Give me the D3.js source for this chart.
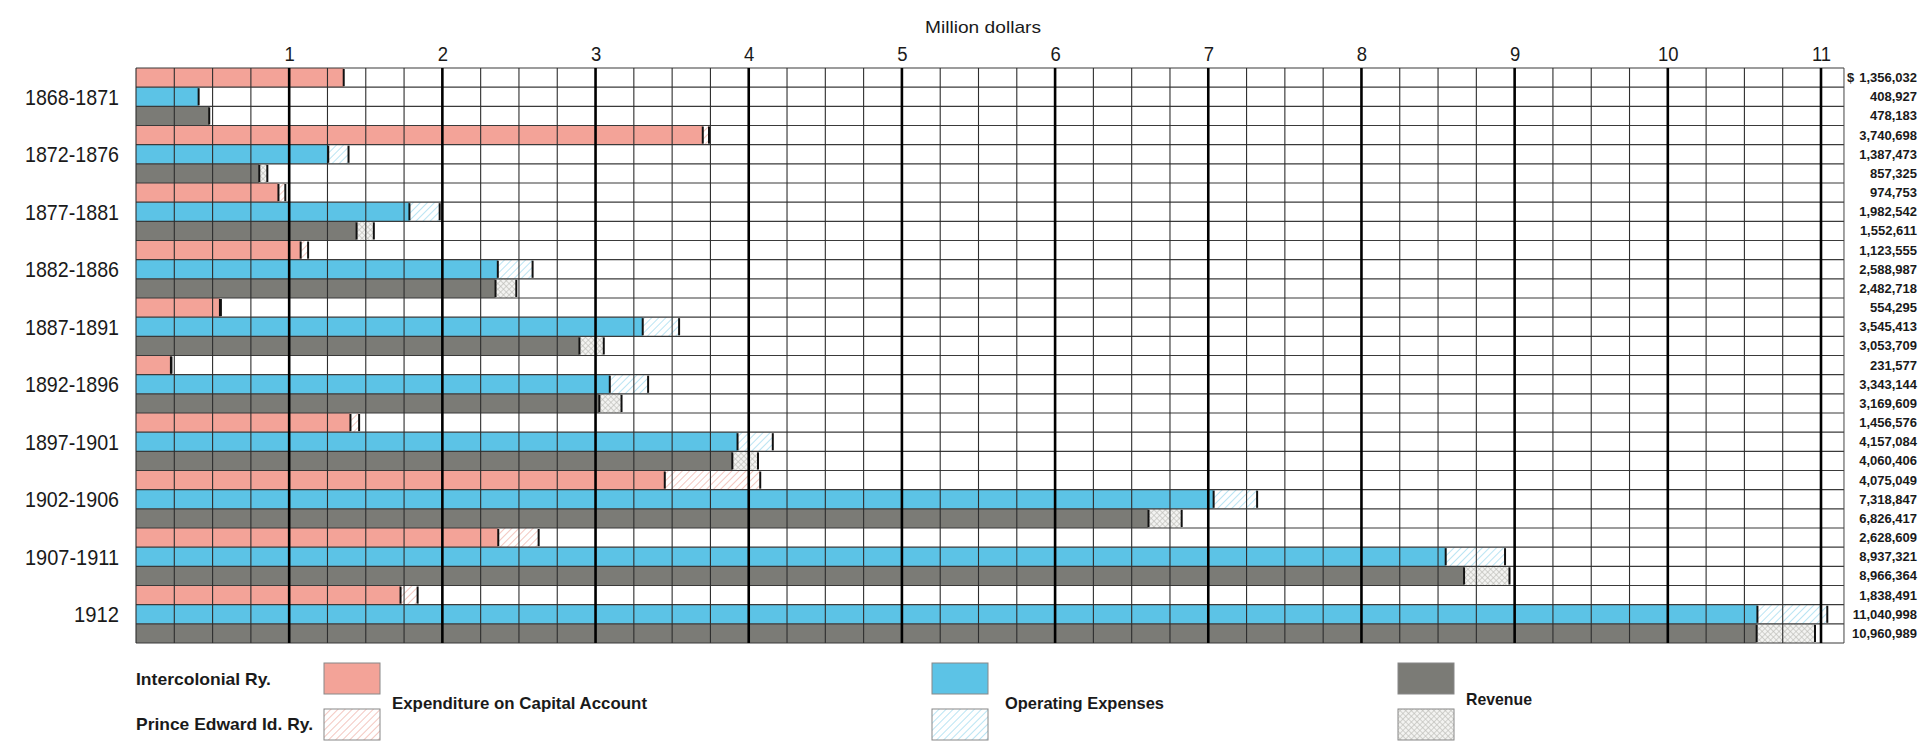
<!DOCTYPE html>
<html>
  <head>
    <meta charset="utf-8">
    <script src="https://d3js.org/d3.v7.min.js"></script>
    <style>
      body { margin: 0; background: #fff; }
      text { font-family: "Liberation Sans Narrow", "Arial Narrow", "Liberation Sans", Arial, sans-serif; fill: #1a1a1a; }
    </style>
  </head>
  <body>
    <div id="graph"></div>
    <script>

var w = 1920;
var h = 744;

// periods
var categories = ["1868-1871", "1872-1876", "1877-1881", "1882-1886", "1887-1891",
                  "1892-1896", "1897-1901", "1902-1906", "1907-1911", "1912"];

// totals (both railways), dollars
var capitalTotal   = [1356032, 3740698, 974753, 1123555, 554295, 231577, 1456576, 4075049, 2628609, 1838491];
var operatingTotal = [408927, 1387473, 1982542, 2588987, 3545413, 3343144, 4157084, 7318847, 8937321, 11040998];
var revenueTotal   = [478183, 857325, 1552611, 2482718, 3053709, 3169609, 4060406, 6826417, 8966364, 10960989];

// Intercolonial Ry. part, rest is Prince Edward Id. Ry.
var capitalInter   = [1356032, 3700000, 930000, 1075000, 548000, 228000, 1400000, 3452000, 2365000, 1727000];
var operatingInter = [408927, 1255000, 1785000, 2362000, 3308000, 3093000, 3927000, 7035000, 8550000, 10585000];
var revenueInter   = [478183, 805000, 1440000, 2347000, 2895000, 3025000, 3893000, 6610000, 8670000, 10580000];

var ticks = [1, 2, 3, 4, 5, 6, 7, 8, 9, 10, 11];

var solidColor = { capital: "#f3a398", operating: "#5cc3e6", revenue: "#7b7b76" };

// one row per bar, values in dollars
var rows = [];
categories.forEach(function(c, i) {
  rows.push({ kind: "capital", inter: capitalInter[i], total: capitalTotal[i] });
  rows.push({ kind: "operating", inter: operatingInter[i], total: operatingTotal[i] });
  rows.push({ kind: "revenue", inter: revenueInter[i], total: revenueTotal[i] });
});

var svg = d3.select("#graph")
  .append("svg")
  .attr("width", w)
  .attr("height", h);

svg.append("rect").attr("width", w).attr("height", h).attr("fill", "#fff");

// patterns for Prince Edward Id. Ry.
var defs = svg.append("defs");
function hatch(id, color) {
  var p = defs.append("pattern")
    .attr("id", id)
    .attr("patternUnits", "userSpaceOnUse")
    .attr("width", 5).attr("height", 5)
    .attr("patternTransform", "rotate(45)");
  p.append("rect").attr("width", 5).attr("height", 5).attr("fill", "#fff");
  p.append("line").attr("x1", 0).attr("y1", 0).attr("x2", 0).attr("y2", 5)
    .attr("stroke", color).attr("stroke-width", 1.6);
}
hatch("hatch-capital", "#f1b9b0");
hatch("hatch-operating", "#a9ddf0");
// revenue: fine cross hatch
var cross = defs.append("pattern")
  .attr("id", "hatch-revenue")
  .attr("patternUnits", "userSpaceOnUse")
  .attr("width", 4).attr("height", 4)
  .attr("patternTransform", "rotate(45)");
cross.append("rect").attr("width", 4).attr("height", 4).attr("fill", "#f3f3f1");
cross.append("line").attr("x1", 0).attr("y1", 0).attr("x2", 0).attr("y2", 4)
  .attr("stroke", "#bdbdb9").attr("stroke-width", 1.3);
cross.append("line").attr("x1", 0).attr("y1", 0).attr("x2", 4).attr("y2", 0)
  .attr("stroke", "#bdbdb9").attr("stroke-width", 1.3);

// x in dollars, ticks shown in millions
var x = d3.scaleLinear()
  .domain([0, 11e6])
  .range([136, 1821]);

var y = d3.scaleBand()
  .domain(d3.range(rows.length))
  .range([68, 643]);

var xEnd = x(11.15e6);

// bars
var bars = svg.append("g");
bars.selectAll("rect.pei")
  .data(rows)
  .enter()
  .append("rect")
  .attr("class", "pei")
  .attr("x", function(d) { return x(d.inter); })
  .attr("y", function(d, i) { return y(i); })
  .attr("width", function(d) { return x(d.total) - x(d.inter); })
  .attr("height", y.bandwidth())
  .attr("fill", function(d) { return "url(#hatch-" + d.kind + ")"; });

bars.selectAll("rect.inter")
  .data(rows)
  .enter()
  .append("rect")
  .attr("class", "inter")
  .attr("x", x(0))
  .attr("y", function(d, i) { return y(i); })
  .attr("width", function(d) { return x(d.inter) - x(0); })
  .attr("height", y.bandwidth())
  .attr("fill", function(d) { return solidColor[d.kind]; });

// grid
var grid = svg.append("g");
grid.selectAll("line.h")
  .data(d3.range(rows.length + 1))
  .enter()
  .append("line")
  .attr("x1", x(0)).attr("x2", xEnd)
  .attr("y1", function(d) { return 68 + d * y.step(); })
  .attr("y2", function(d) { return 68 + d * y.step(); })
  .attr("stroke", "#3a3a3a")
  .attr("stroke-width", 1.1);

grid.selectAll("line.v")
  .data(d3.range(0, 45))
  .enter()
  .append("line")
  .attr("x1", function(d) { return x(d * 250000); })
  .attr("x2", function(d) { return x(d * 250000); })
  .attr("y1", 68).attr("y2", 643)
  .attr("stroke", function(d) { return d % 4 == 0 && d > 0 ? "#000" : "#2e2e2e"; })
  .attr("stroke-width", function(d) { return d % 4 == 0 && d > 0 ? 2.6 : 1.1; });

grid.append("line")
  .attr("x1", xEnd).attr("x2", xEnd)
  .attr("y1", 68).attr("y2", 643)
  .attr("stroke", "#444").attr("stroke-width", 1);

// black end marks of each part
var marks = svg.append("g");
marks.selectAll("line.mi")
  .data(rows)
  .enter()
  .append("line")
  .attr("x1", function(d) { return x(d.inter); })
  .attr("x2", function(d) { return x(d.inter); })
  .attr("y1", function(d, i) { return y(i) + 1; })
  .attr("y2", function(d, i) { return y(i) + y.bandwidth() - 1; })
  .attr("stroke", "#111").attr("stroke-width", 2);

marks.selectAll("line.mt")
  .data(rows.filter(function(d) { return d.total > d.inter; }))
  .enter()
  .append("line")
  .attr("x1", function(d) { return x(d.total); })
  .attr("x2", function(d) { return x(d.total); })
  .attr("y1", function(d) { return y(rows.indexOf(d)) + 1; })
  .attr("y2", function(d) { return y(rows.indexOf(d)) + y.bandwidth() - 1; })
  .attr("stroke", "#111").attr("stroke-width", 2);

// top axis
var axis = svg.append("g")
  .attr("transform", "translate(0,61)")
  .call(d3.axisTop(x)
    .tickValues(ticks.map(function(t) { return t * 1e6; }))
    .tickSize(0).tickPadding(0)
    .tickFormat(function(d) { return d / 1e6; }));
axis.select(".domain").remove();
axis.selectAll("text")
  .attr("font-size", "21px")
  .attr("font-family", "'Liberation Sans Narrow', 'Liberation Sans', sans-serif")
  .attr("fill", "#1a1a1a")
  .attr("transform", "scale(0.88,1)");

svg.append("text")
  .attr("x", 983)
  .attr("y", 33)
  .attr("text-anchor", "middle")
  .attr("font-size", "17px")
  .attr("textLength", 116)
  .attr("lengthAdjust", "spacingAndGlyphs")
  .text("Million dollars");

// period labels
svg.selectAll("text.cat")
  .data(categories)
  .enter()
  .append("text")
  .attr("class", "cat")
  .attr("x", 119)
  .attr("y", function(d, i) { return y(i * 3 + 1) + y.bandwidth() / 2 + 8; })
  .attr("text-anchor", "end")
  .attr("font-size", "22px")
  .attr("textLength", function(d) { return d.length > 4 ? 94 : 45; })
  .attr("lengthAdjust", "spacingAndGlyphs")
  .text(function(d) { return d; });

// value labels
var fmt = d3.format(",");
svg.selectAll("text.val")
  .data(rows)
  .enter()
  .append("text")
  .attr("class", "val")
  .attr("x", 1917)
  .attr("y", function(d, i) { return y(i) + y.bandwidth() / 2 + 4.5; })
  .attr("text-anchor", "end")
  .attr("font-size", "13px")
  .attr("font-weight", "bold")
  .attr("font-family", "'Liberation Sans', Arial, sans-serif")
  .text(function(d) { return fmt(d.total); });

svg.append("text")
  .attr("x", 1847)
  .attr("y", y(0) + y.bandwidth() / 2 + 4.5)
  .attr("font-size", "13px")
  .attr("font-weight", "bold")
  .attr("font-family", "'Liberation Sans', Arial, sans-serif")
  .text("$");

// legend
var legend = svg.append("g");
legend.append("text")
  .attr("x", 136).attr("y", 685)
  .attr("font-size", "17px").attr("font-weight", "bold")
  .attr("textLength", 135).attr("lengthAdjust", "spacingAndGlyphs")
  .text("Intercolonial Ry.");
legend.append("text")
  .attr("x", 136).attr("y", 730)
  .attr("font-size", "17px").attr("font-weight", "bold")
  .attr("textLength", 177).attr("lengthAdjust", "spacingAndGlyphs")
  .text("Prince Edward Id. Ry.");

var legendItems = [
  { kind: "capital", x: 324, label: "Expenditure on Capital Account", lx: 392, lw: 255 },
  { kind: "operating", x: 932, label: "Operating Expenses", lx: 1005, lw: 159 },
  { kind: "revenue", x: 1398, label: "Revenue", lx: 1466, lw: 66 }
];

legendItems.forEach(function(it) {
  legend.append("rect")
    .attr("x", it.x).attr("y", 663).attr("width", 56).attr("height", 31)
    .attr("fill", solidColor[it.kind]).attr("stroke", "#888").attr("stroke-width", 1);
  legend.append("rect")
    .attr("x", it.x).attr("y", 709).attr("width", 56).attr("height", 31)
    .attr("fill", "url(#hatch-" + it.kind + ")").attr("stroke", "#888").attr("stroke-width", 1);
  legend.append("text")
    .attr("x", it.lx).attr("y", it.kind == "revenue" ? 705 : 709)
    .attr("font-size", "17px").attr("font-weight", "bold")
    .attr("textLength", it.lw).attr("lengthAdjust", "spacingAndGlyphs")
    .text(it.label);
});

    </script>
  </body>
</html>
